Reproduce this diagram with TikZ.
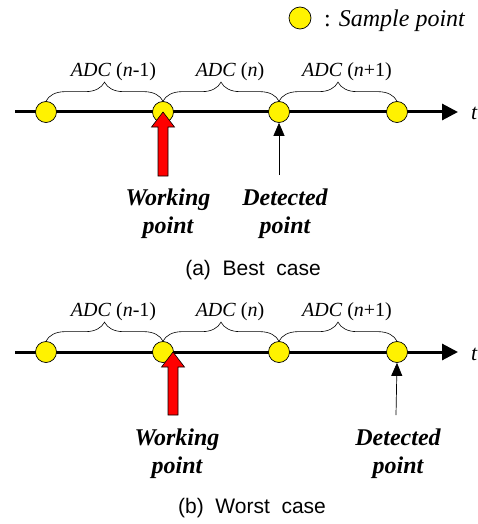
\documentclass[tikz,border=0pt]{standalone}
\usepackage{fontspec}
\setmainfont{Liberation Serif}
\newfontfamily\capfont{Liberation Sans}
\usetikzlibrary{positioning,decorations.pathreplacing,arrows.meta}

\begin{document}
\begin{tikzpicture}[x=1pt, y=-1pt,
  sample/.style={circle, draw=black, fill=yellow, minimum size=21pt, inner sep=0pt, line width=0.7pt},
  timeaxis/.style={line width=3pt, -{Triangle[length=16pt, width=16pt]}},
  span/.style={decorate, decoration={brace, amplitude=19pt}, line width=0.6pt},
  adc/.style={font=\fontsize{20}{22}\selectfont, inner sep=0pt, xshift=9pt},
  ptlabel/.style={font=\fontsize{24}{28}\selectfont\bfseries\itshape, align=center, inner sep=0pt, anchor=north},
  working/.style={draw=black, fill=red, line width=0.6pt, line join=miter},
  detect/.style={line width=0.7pt, -{Triangle[length=13pt, width=11pt]}},
  caption/.style={font=\capfont\fontsize{21}{23}\selectfont, inner sep=0pt}]
  \useasboundingbox (0,0) rectangle (477,524);

  % legend
  \node[sample, minimum size=22pt] (key) at (300,18) {};
  \node[anchor=base west, inner sep=0pt, font=\fontsize{24}{26}\selectfont] (keytext) at (324,27) {: \textit{Sample point}};

  % (a) best case
  \coordinate (a0) at (15,112);
  \coordinate (aend) at (458,112);
  \draw[timeaxis] (a0) -- (aend);
  \node[anchor=base west, inner sep=0pt, font=\fontsize{22}{24}\selectfont\itshape] (ta) at (471,120) {t};
  \foreach \x [count=\i] in {46,163,279,397}
    \node[sample] (a\i) at (\x,112) {};
  \draw[span] (a1.north) -- (a2.north) node[adc, midway, above=20pt] {\textit{ADC} (\textit{n}-1)};
  \draw[span] (a2.north) -- (a3.north) node[adc, midway, above=20pt] {\textit{ADC} (\textit{n})};
  \draw[span] (a3.north) -- (a4.north) node[adc, midway, above=20pt] {\textit{ADC} (\textit{n}+1)};
  \draw[working] (a2.center) -- ++(11.5,15) -- ++(-6.5,0) -- ++(0,49) -- ++(-10,0)
    -- ++(0,-49) -- ++(-6.5,0) -- cycle;
  \coordinate (da) at (279,175);
  \draw[detect] (da) -- (a3.south);
  \node[ptlabel] (wla) at (168,189) {Working\\point};
  \node[ptlabel] (dla) at (285,189) {Detected\\point};
  \node[caption] (capa) at (253,270) {(a)~~Best~~case};

  % (b) worst case
  \coordinate (b0) at (15,352);
  \coordinate (bend) at (458,352);
  \draw[timeaxis] (b0) -- (bend);
  \node[anchor=base west, inner sep=0pt, font=\fontsize{22}{24}\selectfont\itshape] (tb) at (471,360) {t};
  \foreach \x [count=\i] in {46,163,279,397}
    \node[sample] (b\i) at (\x,352) {};
  \draw[span] (b1.north) -- (b2.north) node[adc, midway, above=20pt] {\textit{ADC} (\textit{n}-1)};
  \draw[span] (b2.north) -- (b3.north) node[adc, midway, above=20pt] {\textit{ADC} (\textit{n})};
  \draw[span] (b3.north) -- (b4.north) node[adc, midway, above=20pt] {\textit{ADC} (\textit{n}+1)};
  \coordinate (wb) at (173,352);
  \draw[working] (wb) -- ++(11.5,15) -- ++(-6.5,0) -- ++(0,48) -- ++(-10,0)
    -- ++(0,-48) -- ++(-6.5,0) -- cycle;
  \coordinate (db) at (396,415);
  \draw[detect] (db) -- (b4.south);
  \node[ptlabel] (wlb) at (177,429) {Working\\point};
  \node[ptlabel] (dlb) at (398,429) {Detected\\point};
  \node[caption] (capb) at (252,508) {(b)~~Worst~~case};
\end{tikzpicture}
\end{document}
